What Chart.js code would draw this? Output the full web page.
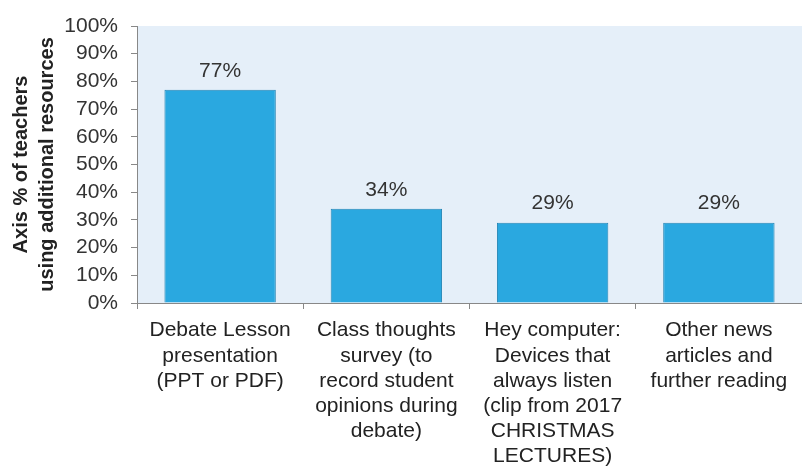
<!DOCTYPE html>
<html>
<head>
<meta charset="utf-8">
<script src="https://cdn.jsdelivr.net/npm/chart.js@4"></script>
<style>
  body { margin: 0; background: #fff; }
  #wrap { width: 802px; height: 469px; }
</style>
</head>
<body>
<div id="wrap"><canvas id="chart" width="802" height="469"></canvas></div>
<script>
const categories = [
    ['Debate Lesson', 'presentation', '(PPT or PDF)'],
    ['Class thoughts', 'survey (to', 'record student', 'opinions during', 'debate)'],
    ['Hey computer:', 'Devices that', 'always listen', '(clip from 2017', 'CHRISTMAS', 'LECTURES)'],
    ['Other news', 'articles and', 'further reading']
];
const teachersPct = [77, 34, 29, 29];
const yTitle = ['Axis % of teachers', 'using additional resources'];

const FONT = 'Liberation Sans, Arial, sans-serif';

// light blue plot background
const plotBg = {
    id: 'plotBg',
    beforeDraw(chart) {
        const a = chart.chartArea, c = chart.ctx;
        c.save();
        c.fillStyle = '#e5eff9';
        c.fillRect(a.left, a.top, a.right - a.left, a.bottom - a.top);
        c.restore();
    }
};

// value labels above the bars
const valueLabels = {
    id: 'valueLabels',
    afterDatasetsDraw(chart) {
        const c = chart.ctx;
        const meta = chart.getDatasetMeta(0);
        c.save();
        c.font = '21px ' + FONT;
        c.fillStyle = '#333';
        c.textAlign = 'center';
        c.textBaseline = 'middle';
        meta.data.forEach((bar, i) => {
            c.fillText(teachersPct[i] + '%', bar.x, bar.y - 19);
        });
        c.restore();
    }
};

const ctx = document.querySelector('#chart').getContext('2d');
const chart = new Chart(ctx, {
    type: 'bar',
    data: {
        labels: categories,
        datasets: [{
            data: teachersPct,
            backgroundColor: '#2aa8e0',
            borderColor: '#2485b5',
            borderWidth: 1,
            barPercentage: 0.67,
            categoryPercentage: 1
        }]
    },
    options: {
        responsive: false,
        animation: false,
        layout: { padding: { top: 26, right: 0, left: 0, bottom: 0 } },
        plugins: {
            legend: { display: false },
            tooltip: { enabled: false }
        },
        scales: {
            x: {
                grid: {
                    drawOnChartArea: false,
                    drawTicks: true,
                    tickLength: 6,
                    color: '#888',
                    offset: true
                },
                border: { color: '#888', width: 1 },
                ticks: {
                    color: '#222',
                    font: { family: FONT, size: 21, lineHeight: 1.2 },
                    maxRotation: 0,
                    autoSkip: false,
                    padding: 9
                },
                afterFit(s) { s.height = 166; }
            },
            y: {
                min: 0,
                max: 100,
                grid: {
                    drawOnChartArea: false,
                    drawTicks: true,
                    tickLength: 6,
                    color: '#888'
                },
                border: { color: '#888', width: 1 },
                ticks: {
                    stepSize: 10,
                    autoSkip: false,
                    color: '#333',
                    font: { family: FONT, size: 21 },
                    padding: 13,
                    callback: v => v + '%'
                },
                title: {
                    display: true,
                    text: yTitle,
                    color: '#222',
                    font: { family: FONT, size: 20, weight: 'bold', lineHeight: 1.3 },
                    padding: { top: 8, bottom: 0 }
                },
                afterFit(s) { s.width = 137; }
            }
        }
    },
    plugins: [plotBg, valueLabels]
});
</script>
</body>
</html>
